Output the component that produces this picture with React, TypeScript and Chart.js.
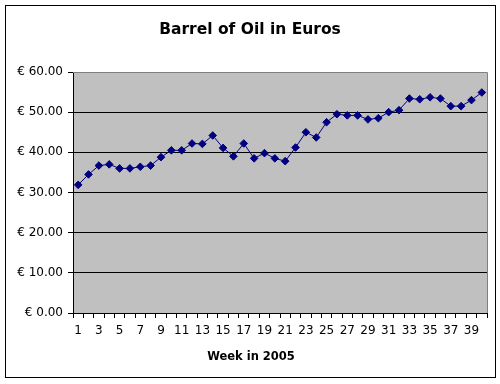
import React, { useEffect, useRef } from "react";
import { Chart, registerables } from "chart.js";

Chart.register(...registerables);

const weeks: string[] = Array.from({ length: 40 }, (_, i) => String(i + 1));
const prices: number[] = [
  31.9, 34.5, 36.7, 37.0, 36.0, 36.0, 36.4, 36.7, 38.8, 40.5,
  40.5, 42.2, 42.1, 44.2, 41.1, 39.0, 42.2, 38.5, 39.8, 38.5,
  37.8, 41.2, 45.0, 43.7, 47.5, 49.5, 49.2, 49.2, 48.2, 48.5,
  50.0, 50.5, 53.4, 53.2, 53.7, 53.4, 51.5, 51.5, 53.0, 54.9,
];
const yTicks: number[] = [0, 10, 20, 30, 40, 50, 60];
const titleText = "Barrel of Oil in Euros";
const xTitleText = "Week in 2005";

const FONT = "'DejaVu Sans', sans-serif";

const decorPlugin = {
  id: "decor",
  beforeDraw(chart: any) {
    const { ctx, chartArea: a } = chart;
    ctx.save();
    ctx.fillStyle = "#ffffff";
    ctx.fillRect(0, 0, chart.width, chart.height);
    ctx.fillStyle = "#C0C0C0";
    ctx.fillRect(a.left, a.top, a.right - a.left, a.bottom - a.top);
    ctx.strokeStyle = "#000000";
    ctx.lineWidth = 1;
    ctx.strokeRect(5.5, 5.5, 490, 372);
    ctx.restore();
  },
  beforeDatasetsDraw(chart: any) {
    const { ctx, chartArea: a } = chart;
    ctx.save();
    ctx.strokeStyle = "#808080";
    ctx.lineWidth = 1;
    ctx.beginPath();
    ctx.moveTo(Math.round(a.left), Math.round(a.top) + 0.5);
    ctx.lineTo(Math.round(a.right) + 0.5, Math.round(a.top) + 0.5);
    ctx.lineTo(Math.round(a.right) + 0.5, Math.round(a.bottom));
    ctx.stroke();
    ctx.restore();
  },
  afterDraw(chart: any) {
    const { ctx } = chart;
    ctx.save();
    ctx.fillStyle = "#000000";
    ctx.textAlign = "center";
    ctx.textBaseline = "middle";
    ctx.font = `bold 15.5px ${FONT}`;
    ctx.fillText(titleText, 250, 30);
    ctx.font = `bold 11.5px ${FONT}`;
    ctx.fillText(xTitleText, 251, 357);
    ctx.restore();
  },
};

export default function App() {
  const ref = useRef<HTMLCanvasElement | null>(null);
  useEffect(() => {
    if (!ref.current) return;
    const chart = new Chart(ref.current, {
      type: "line",
      data: {
        labels: weeks,
        datasets: [
          {
            data: prices,
            borderColor: "#000080",
            backgroundColor: "#000080",
            borderWidth: 1,
            pointStyle: "rectRot",
            pointRadius: 3.8,
            pointBorderWidth: 1,
            tension: 0,
          },
        ],
      },
      options: {
        animation: false,
        responsive: false,
        maintainAspectRatio: false,
        devicePixelRatio: 1,
        layout: { padding: { left: 0, right: 13, top: 72, bottom: 0 } },
        plugins: {
          legend: { display: false },
          title: { display: false },
          tooltip: { enabled: false },
        },
        scales: {
          x: {
            type: "category",
            offset: true,
            grid: {
              offset: true,
              drawOnChartArea: false,
              drawTicks: true,
              tickLength: 5,
              color: "#000000",
            },
            border: { color: "#000000", width: 1 },
            ticks: {
              autoSkip: false,
              maxRotation: 0,
              minRotation: 0,
              padding: 6,
              color: "#000000",
              font: { family: FONT, size: 12 },
              callback: (_v: any, i: number) => (i % 2 === 0 ? weeks[i] : ""),
            },
            afterFit: (s: any) => {
              s.height = 71;
            },
          },
          y: {
            min: 0,
            max: 60,
            afterBuildTicks: (s: any) => {
              s.ticks = yTicks.map((v) => ({ value: v }));
            },
            grid: {
              color: (c: any) => (c.tick && c.tick.value === 60 ? "#808080" : "#000000"),
              tickColor: "#000000",
              tickLength: 5,
              drawTicks: true,
            },
            border: { color: "#000000", width: 1 },
            ticks: {
              padding: 5,
              color: "#000000",
              font: { family: FONT, size: 12 },
              callback: (v: any) => "€ " + Number(v).toFixed(2),
            },
            afterFit: (s: any) => {
              s.width = 73;
            },
          },
        },
      },
      plugins: [decorPlugin],
    });
    return () => chart.destroy();
  }, []);
  return (
    <div style={{ position: "absolute", left: 0, top: 0, width: 500, height: 384, background: "#fff" }}>
      <canvas ref={ref} width={500} height={384} style={{ display: "block", width: 500, height: 384 }} />
    </div>
  );
}
